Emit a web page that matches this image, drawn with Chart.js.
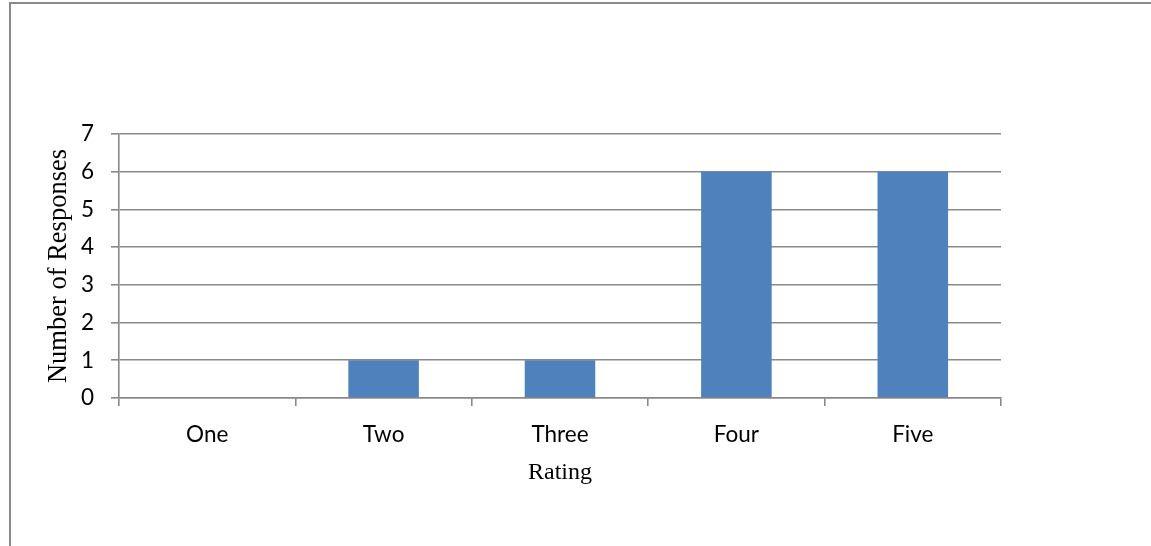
<!DOCTYPE html>
<html>
<head>
<meta charset="utf-8">
<title>Rating responses</title>
<script src="https://cdn.jsdelivr.net/npm/chart.js@4.4.1/dist/chart.umd.min.js"></script>
<style>
  html, body { margin: 0; padding: 0; background: #fff; }
  #wrap { position: relative; width: 1151px; height: 546px; overflow: hidden; }
  #frame {
    position: absolute; left: 9px; top: 2px; right: -4px; bottom: -4px;
    border-top: 2px solid #8a8a8a; border-left: 2px solid #8a8a8a;
  }
  canvas { position: absolute; left: 0; top: 0; }
</style>
</head>
<body>
<div id="wrap">
  <div id="frame"></div>
  <canvas id="ratingChart" width="1151" height="546"></canvas>
</div>
<script>
const ratings = ["One", "Two", "Three", "Four", "Five"];
const responses = [0, 1, 1, 6, 6];
const yTicks = [0, 1, 2, 3, 4, 5, 6, 7];

const gridColor = "#898989";
const tickFont = { family: "Lato, 'Liberation Sans', sans-serif", size: 22.5 };

document.addEventListener("DOMContentLoaded", function () {
  const canvas = document.getElementById("ratingChart");
  if (!canvas) return;
  const ctx = canvas.getContext("2d");

  new Chart(ctx, {
    type: "bar",
    data: {
      labels: ratings,
      datasets: [
        {
          label: "Number of Responses",
          data: responses,
          backgroundColor: "#4f81bd",
          borderWidth: 0,
          categoryPercentage: 1,
          barPercentage: 0.4,
        },
      ],
    },
    options: {
      responsive: false,
      animation: false,
      layout: {
        padding: { left: 0, top: 134, right: 150, bottom: 0 },
      },
      plugins: {
        legend: { display: false },
        tooltip: { enabled: false },
      },
      scales: {
        x: {
          afterFit: function (scale) {
            scale.height = 148;
          },
          grid: {
            offset: true,
            drawOnChartArea: false,
            color: gridColor,
            lineWidth: 1.6,
            tickLength: 8,
          },
          border: { color: gridColor, width: 1.6 },
          ticks: {
            color: "#000",
            padding: 15,
            font: tickFont,
          },
          title: {
            display: true,
            text: "Rating",
            color: "#000",
            padding: { top: 0, bottom: 59 },
            font: { family: "'Liberation Serif', 'Times New Roman', serif", size: 24 },
          },
        },
        y: {
          min: 0,
          max: yTicks[yTicks.length - 1],
          afterFit: function (scale) {
            scale.width = 119;
          },
          afterBuildTicks: function (scale) {
            scale.ticks = yTicks.map(function (v) {
              return { value: v };
            });
          },
          grid: {
            color: gridColor,
            lineWidth: 1.6,
            tickLength: 8,
          },
          border: { color: gridColor, width: 1.6 },
          ticks: {
            color: "#000",
            padding: 17,
            font: tickFont,
          },
          title: {
            display: true,
            text: "Number of Responses",
            color: "#000",
            padding: { top: 43, bottom: 0 },
            font: { family: "'Liberation Serif', 'Times New Roman', serif", size: 26.5 },
          },
        },
      },
    },
  });
});
</script>
</body>
</html>
